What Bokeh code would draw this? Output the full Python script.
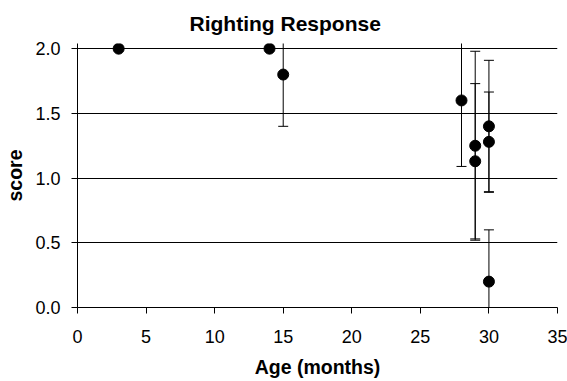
from bokeh.plotting import figure
from bokeh.models import ColumnDataSource, Range1d, FixedTicker, NumeralTickFormatter
from bokeh.embed import file_html
from bokeh.resources import INLINE

# Data
age = [3, 14, 15, 28, 29, 29, 30, 30, 30]
score = [2.0, 2.0, 1.8, 1.6, 1.25, 1.13, 1.4, 1.28, 0.2]
err = [0.0, 0.0, 0.4, 0.51, 0.73, 0.6, 0.51, 0.385, 0.4]
x_ticks = [0, 5, 10, 15, 20, 25, 30, 35]
y_ticks = [0.0, 0.5, 1.0, 1.5, 2.0]

FONT = "Liberation Sans"

p = figure(width=567, height=381, output_backend="svg", toolbar_location=None,
           x_range=Range1d(0, 35), y_range=Range1d(0, 2.04),
           min_border_left=77, min_border_right=10, min_border_top=43, min_border_bottom=74)

p.title.text = "Righting Response"
p.title.align = "left"
p.title.offset = 112
p.title.text_font = FONT
p.title.text_font_size = "21px"
p.title.text_font_style = "bold"
p.title.text_color = "black"
p.title.standoff = 18

p.outline_line_color = None
p.background_fill_color = "white"
p.border_fill_color = "white"

p.xgrid.grid_line_color = None
p.ygrid.grid_line_color = "black"
p.ygrid.grid_line_width = 1

for ax in (p.xaxis[0], p.yaxis[0]):
    ax.axis_line_color = "black"
    ax.major_tick_line_color = "black"
    ax.minor_tick_line_color = None
    ax.major_tick_in = 0
    ax.major_tick_out = 6
    ax.major_label_text_font = FONT
    ax.major_label_text_font_size = "18px"
    ax.major_label_text_color = "black"
    ax.axis_label_text_font = FONT
    ax.axis_label_text_font_size = "19.5px"
    ax.axis_label_text_font_style = "bold"
    ax.axis_label_text_color = "black"

p.xaxis.ticker = FixedTicker(ticks=x_ticks)
p.yaxis.ticker = FixedTicker(ticks=y_ticks)
p.yaxis.formatter = NumeralTickFormatter(format="0.0")
p.xaxis.axis_label = "Age (months)"
p.yaxis.axis_label = "score"
p.xaxis.major_label_standoff = 16
p.yaxis.major_label_standoff = 11
p.xaxis.axis_label_standoff = 10
p.yaxis.axis_label_standoff = 6

# error bars
ex, elo, ehi = [], [], []
for a, s, e in zip(age, score, err):
    if e > 0:
        ex.append(a)
        elo.append(s - e)
        ehi.append(s + e)
esrc = ColumnDataSource(dict(x=ex, lo=elo, hi=ehi))
p.segment(x0="x", y0="lo", x1="x", y1="hi", source=esrc, line_color="black", line_width=1)
p.scatter(x="x", y="lo", source=esrc, marker="dash", size=10, line_color="black", line_width=1)
p.scatter(x="x", y="hi", source=esrc, marker="dash", size=10, line_color="black", line_width=1)

src = ColumnDataSource(dict(x=age, y=score))
p.scatter(x="x", y="y", source=src, size=11, fill_color="black", line_color="black")

open("out.html", "w").write(file_html(p, INLINE))
